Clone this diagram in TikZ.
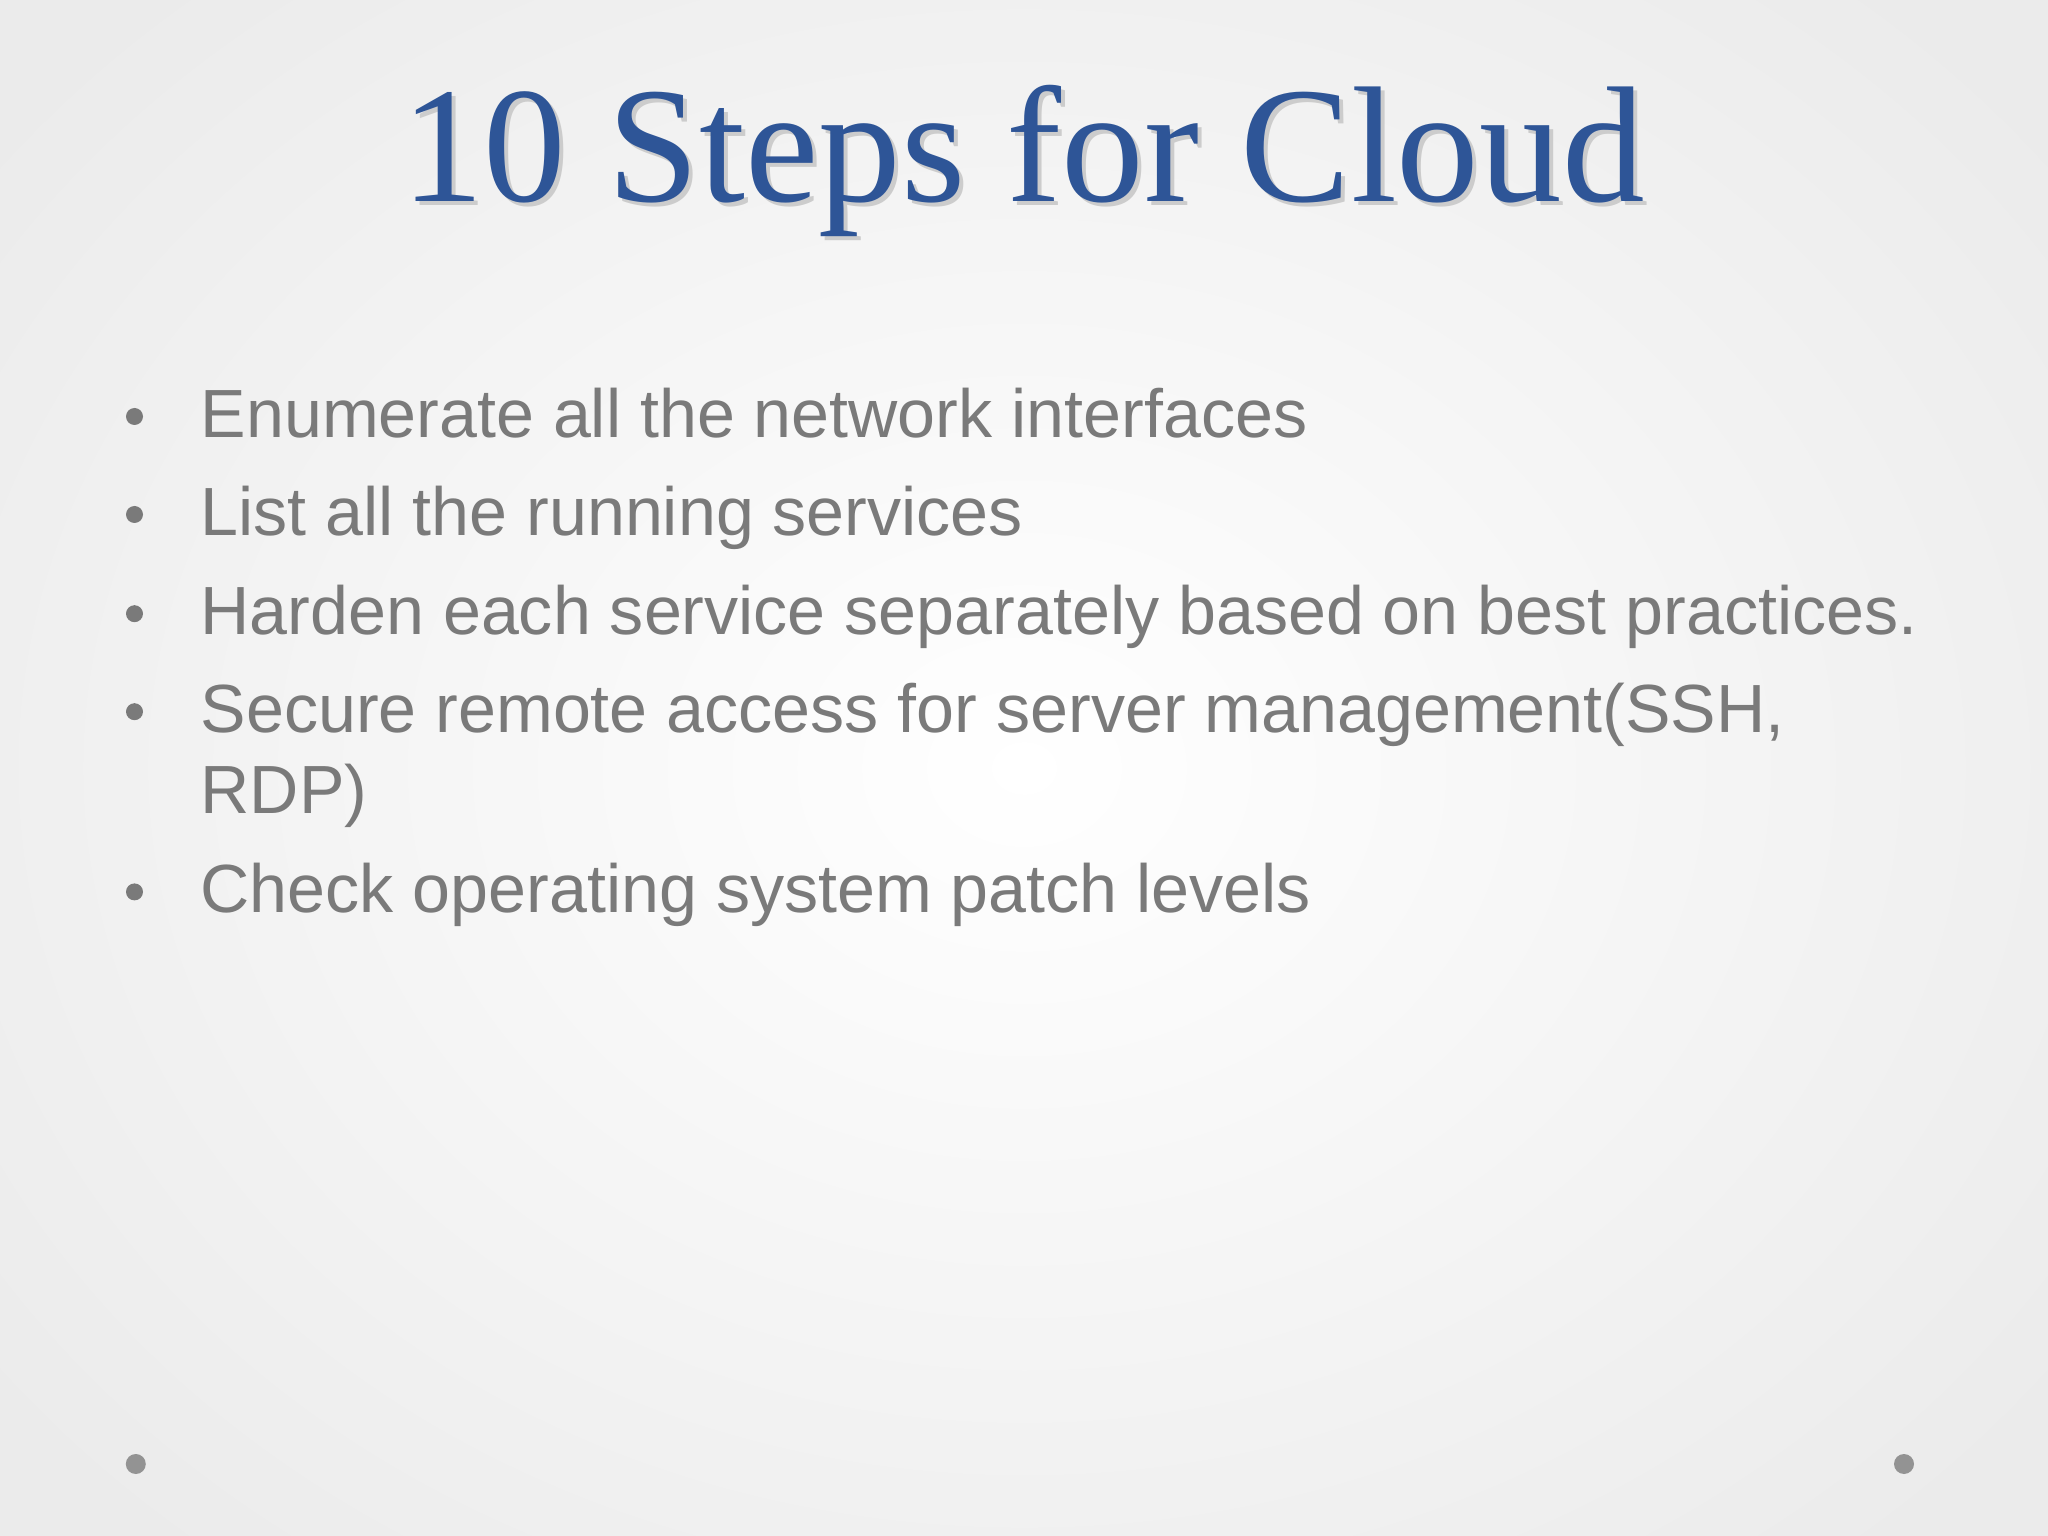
\documentclass[tikz,border=0pt]{standalone}
\usepackage{fontspec}
\setmainfont{Liberation Serif}
\setsansfont{Liberation Sans}
\definecolor{titleblue}{HTML}{2E5597}
\definecolor{bodygray}{HTML}{7A7A7A}
\begin{document}
\begin{tikzpicture}[
  item/.style={anchor=base west,inner sep=0pt,font=\sffamily\fontsize{19.4pt}{23pt}\selectfont,text=bodygray},
  bul/.style={circle,fill=bodygray,inner sep=0pt,minimum size=0.17cm},
  corner/.style={circle,fill=gray!85,inner sep=0pt,minimum size=0.2cm}]
\useasboundingbox (0,0) rectangle (20.48,-15.36);
\shade[inner color=white,outer color=gray!16] (-3,3) rectangle (23.48,-18.36);
\node[anchor=base,inner sep=0pt,font=\fontsize{47pt}{53pt}\selectfont,text=gray!40] at (10.27,-2.06) {10 Steps for Cloud};
\node (title)[anchor=base,inner sep=0pt,font=\fontsize{47pt}{53pt}\selectfont,text=titleblue] at (10.23,-2.02) {10 Steps for Cloud};
\foreach \y/\t [count=\i] in {-4.375/Enumerate all the network interfaces,
  -5.355/List all the running services,
  -6.347/Harden each service separately based on best practices.,
  -7.327/{Secure remote access for server management(SSH,},
  -9.129/Check operating system patch levels}{
  \node (t\i)[item] at (2.0,\y) {\t};
  \node (b\i)[bul] at (1.345,\y+0.21) {};
}
\node (t6)[item] at (2.0,-8.136) {RDP)};
\node (c1)[corner] at (1.358,-14.64) {};
\node (c2)[corner] at (19.04,-14.64) {};
\end{tikzpicture}
\end{document}
